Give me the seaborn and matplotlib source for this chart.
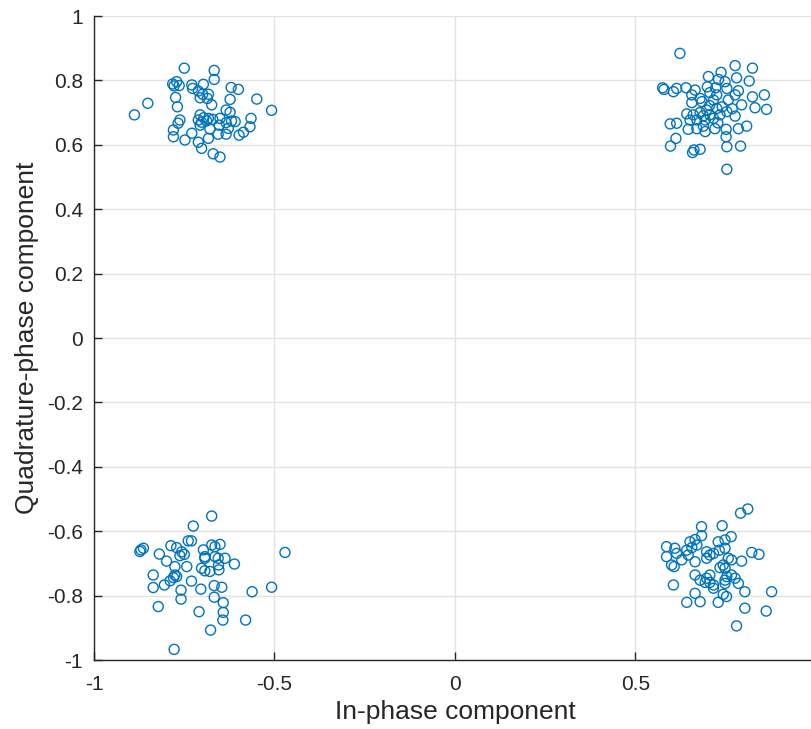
import matplotlib
matplotlib.use('Agg')
import numpy as np
import pandas as pd
import matplotlib.pyplot as plt
import seaborn as sns

# in-phase / quadrature samples, one pair per cluster
i_tl = [-0.750, -0.667, -0.667, -0.782, -0.771, -0.764, -0.778, -0.729, -0.727, -0.697,
        -0.711, -0.699, -0.683, -0.686, -0.706, -0.674, -0.620, -0.600, -0.623, -0.549,
        -0.508, -0.851, -0.888, -0.774, -0.769, -0.634, -0.623, -0.706, -0.696, -0.683,
        -0.702, -0.688, -0.671, -0.651, -0.653, -0.634, -0.619, -0.628, -0.609, -0.634,
        -0.762, -0.767, -0.565, -0.568, -0.586, -0.598, -0.780, -0.780, -0.748, -0.729,
        -0.711, -0.679, -0.683, -0.656, -0.702, -0.670, -0.651, -0.711, -0.706]
q_tl = [0.838, 0.831, 0.803, 0.789, 0.796, 0.784, 0.783, 0.786, 0.775, 0.788,
        0.767, 0.757, 0.757, 0.744, 0.746, 0.724, 0.778, 0.772, 0.741, 0.742,
        0.707, 0.729, 0.693, 0.747, 0.718, 0.708, 0.701, 0.693, 0.684, 0.682,
        0.670, 0.674, 0.679, 0.682, 0.661, 0.669, 0.674, 0.651, 0.672, 0.633,
        0.677, 0.667, 0.682, 0.656, 0.639, 0.630, 0.646, 0.625, 0.615, 0.636,
        0.608, 0.649, 0.620, 0.633, 0.589, 0.572, 0.562, 0.677, 0.661]

i_tr = [0.623, 0.776, 0.824, 0.702, 0.737, 0.730, 0.748, 0.780, 0.815, 0.575,
        0.579, 0.605, 0.614, 0.640, 0.665, 0.699, 0.722, 0.753, 0.785, 0.656,
        0.679, 0.706, 0.725, 0.776, 0.824, 0.857, 0.656, 0.684, 0.716, 0.757,
        0.794, 0.831, 0.863, 0.642, 0.660, 0.679, 0.697, 0.706, 0.725, 0.734,
        0.753, 0.776, 0.670, 0.693, 0.716, 0.596, 0.614, 0.646, 0.670, 0.693,
        0.720, 0.751, 0.751, 0.785, 0.808, 0.612, 0.597, 0.662, 0.658, 0.679,
        0.753, 0.791, 0.753, 0.688, 0.651, 0.705, 0.740, 0.688, 0.728, 0.768]
q_tr = [0.884, 0.846, 0.838, 0.812, 0.825, 0.803, 0.796, 0.808, 0.798, 0.777,
        0.772, 0.765, 0.775, 0.777, 0.770, 0.780, 0.777, 0.775, 0.768, 0.755,
        0.744, 0.762, 0.755, 0.755, 0.749, 0.755, 0.731, 0.734, 0.739, 0.739,
        0.724, 0.715, 0.710, 0.696, 0.693, 0.700, 0.708, 0.693, 0.713, 0.693,
        0.703, 0.689, 0.677, 0.677, 0.682, 0.665, 0.667, 0.648, 0.650, 0.641,
        0.650, 0.648, 0.625, 0.650, 0.658, 0.620, 0.596, 0.584, 0.576, 0.586,
        0.594, 0.596, 0.524, 0.658, 0.677, 0.722, 0.718, 0.690, 0.668, 0.712]

i_bl = [-0.674, -0.725, -0.870, -0.863, -0.873, -0.819, -0.787, -0.771, -0.757, -0.750,
        -0.762, -0.739, -0.730, -0.697, -0.674, -0.665, -0.651, -0.693, -0.693, -0.665,
        -0.656, -0.637, -0.799, -0.776, -0.743, -0.702, -0.693, -0.679, -0.655, -0.654,
        -0.611, -0.836, -0.776, -0.780, -0.789, -0.771, -0.805, -0.836, -0.730, -0.759,
        -0.759, -0.704, -0.667, -0.646, -0.667, -0.642, -0.642, -0.643, -0.709, -0.822,
        -0.562, -0.508, -0.471, -0.580, -0.677, -0.778]
q_bl = [-0.553, -0.584, -0.658, -0.653, -0.663, -0.671, -0.645, -0.651, -0.664, -0.672,
        -0.676, -0.630, -0.630, -0.658, -0.643, -0.648, -0.641, -0.679, -0.684, -0.679,
        -0.684, -0.684, -0.693, -0.710, -0.710, -0.715, -0.723, -0.725, -0.705, -0.720,
        -0.702, -0.736, -0.736, -0.744, -0.754, -0.741, -0.767, -0.775, -0.755, -0.783,
        -0.811, -0.780, -0.769, -0.774, -0.805, -0.822, -0.852, -0.876, -0.850, -0.834,
        -0.788, -0.774, -0.666, -0.876, -0.907, -0.967]

i_br = [0.791, 0.811, 0.683, 0.740, 0.683, 0.765, 0.748, 0.729, 0.586, 0.609,
        0.614, 0.651, 0.665, 0.670, 0.656, 0.642, 0.646, 0.586, 0.600, 0.607,
        0.628, 0.665, 0.697, 0.706, 0.716, 0.697, 0.732, 0.748, 0.757, 0.766,
        0.794, 0.822, 0.842, 0.743, 0.748, 0.734, 0.665, 0.679, 0.697, 0.706,
        0.716, 0.693, 0.748, 0.753, 0.766, 0.776, 0.785, 0.748, 0.605, 0.716,
        0.803, 0.877, 0.665, 0.743, 0.752, 0.642, 0.679, 0.729, 0.803, 0.862,
        0.780, 0.706]
q_br = [-0.544, -0.531, -0.586, -0.583, -0.614, -0.617, -0.627, -0.633, -0.648, -0.653,
        -0.669, -0.633, -0.626, -0.643, -0.651, -0.659, -0.674, -0.679, -0.705, -0.710,
        -0.689, -0.695, -0.664, -0.674, -0.669, -0.684, -0.659, -0.653, -0.684, -0.689,
        -0.693, -0.666, -0.672, -0.705, -0.715, -0.713, -0.736, -0.752, -0.746, -0.759,
        -0.767, -0.759, -0.752, -0.741, -0.736, -0.746, -0.762, -0.762, -0.767, -0.777,
        -0.788, -0.788, -0.793, -0.796, -0.803, -0.821, -0.819, -0.821, -0.839, -0.848,
        -0.894, -0.736]

x_ticks = [-1, -0.5, 0, 0.5, 1]
x_tick_labels = ['-1', '-0.5', '0', '0.5', '1']
y_ticks = [-1, -0.8, -0.6, -0.4, -0.2, 0, 0.2, 0.4, 0.6, 0.8, 1]
y_tick_labels = ['-1', '-0.8', '-0.6', '-0.4', '-0.2', '0', '0.2', '0.4', '0.6', '0.8', '1']


def main():
    df = pd.DataFrame({
        'inphase': i_tl + i_tr + i_bl + i_br,
        'quadrature': q_tl + q_tr + q_bl + q_br,
    })

    sns.set_style('whitegrid')
    plt.rcParams['font.family'] = ['Liberation Sans', 'DejaVu Sans']
    plt.rcParams['axes.unicode_minus'] = False
    text_col = '#262626'

    fig = plt.figure(figsize=(8.12, 7.29), dpi=100)
    ax = fig.add_axes([94 / 812, 69 / 729, 722 / 812, 644 / 729])

    sns.scatterplot(data=df, x='inphase', y='quadrature', ax=ax,
                    marker='o', s=52, facecolor='none',
                    edgecolor='#0072BD', linewidth=1.0, zorder=3)

    ax.set_xlim(-1, 1)
    ax.set_ylim(-1, 1)
    ax.set_xticks(x_ticks)
    ax.set_xticklabels(x_tick_labels)
    ax.set_yticks(y_ticks)
    ax.set_yticklabels(y_tick_labels)
    ax.grid(True, color='#e3e3e3', linewidth=1.0)
    ax.set_axisbelow(True)

    for side in ['top', 'right']:
        ax.spines[side].set_visible(False)
    for side in ['left', 'bottom']:
        ax.spines[side].set_color(text_col)
        ax.spines[side].set_linewidth(1.0)

    ax.tick_params(axis='both', direction='in', length=6, width=1.0,
                   colors=text_col, labelsize=15)
    ax.tick_params(axis='x', pad=11)
    ax.tick_params(axis='y', pad=8)
    ax.tick_params(axis='both', which='both', top=False, right=False,
                   left=True, bottom=True)

    ax.set_xlabel('In-phase component', fontsize=19, color=text_col, labelpad=4)
    ax.set_ylabel('Quadrature-phase component', fontsize=19, color=text_col, labelpad=6)

    fig.savefig('out.png', dpi=100)


if __name__ == '__main__':
    main()
